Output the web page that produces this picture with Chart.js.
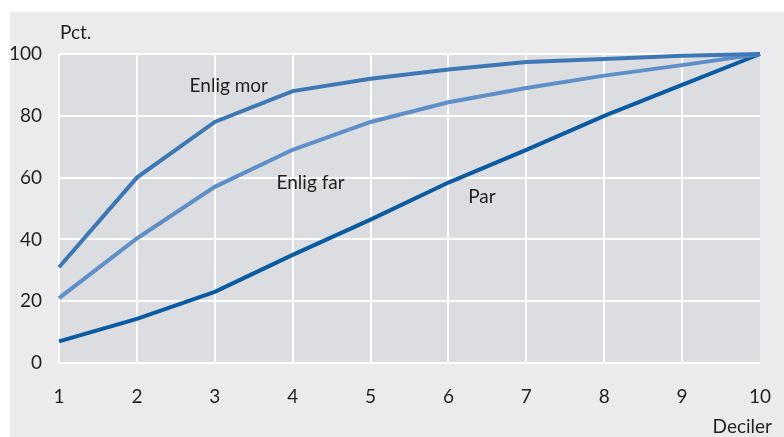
<!DOCTYPE html>
<html><head><meta charset="utf-8">
<script src="https://cdn.jsdelivr.net/npm/chart.js@4"></script>
<style>html,body{margin:0;padding:0;background:#fff;}#wrap{width:784px;height:437px;position:relative;}</style>
</head><body><div id="wrap"><canvas id="c" width="784" height="437"></canvas></div>
<script>
const deciles = [1,2,3,4,5,6,7,8,9,10];
const yTicks = [0,20,40,60,80,100];
const enligMor = [31,60,78,88,92,95,97.4,98.4,99.4,100];
const enligFar = [21,40.3,57,69,78,84.4,89,93,96.4,100];
const par = [7,14.3,23,35,46.4,58.4,69,80,90,100];
const seriesLabels = ["Enlig mor","Enlig far","Par"];
const labelPos = [[3.18,89.6],[4.23,58.4],[6.43,53.9]];

const FONT = "Lato";
const txt = "#231f20";
const toXY = arr => arr.map((v,i)=>({x:deciles[i],y:v}));

const bgPlugin = {
  id:'bg',
  beforeDraw(chart){
    const {ctx, chartArea:a} = chart;
    ctx.save();
    ctx.fillStyle = '#ebebed';
    ctx.fillRect(10,12,chart.width-10,chart.height-12);
    ctx.fillStyle = '#dcdde0';
    ctx.fillRect(a.left,a.top,a.right-a.left,a.bottom-a.top);
    ctx.restore();
  },
  afterDraw(chart){
    const {ctx, chartArea:a, scales:{x,y}} = chart;
    ctx.save();
    ctx.fillStyle = txt;
    ctx.font = `19px ${FONT}`;
    ctx.textAlign='center'; ctx.textBaseline='middle';
    seriesLabels.forEach((l,i)=>{
      ctx.fillText(l, x.getPixelForValue(labelPos[i][0]), y.getPixelForValue(labelPos[i][1]));
    });
    ctx.textAlign='left';
    ctx.fillText('Pct.', a.left+1, a.top-21);
    ctx.textAlign='right';
    ctx.fillText('Deciler', a.right+12, a.bottom+64);
    ctx.restore();
  }
};

new Chart(document.getElementById('c'),{
  type:'line',
  data:{datasets:[
    {data:toXY(enligMor),borderColor:'#3d78b6',borderWidth:4},
    {data:toXY(enligFar),borderColor:'#5e8fc8',borderWidth:4},
    {data:toXY(par),borderColor:'#0b5ba3',borderWidth:4}
  ]},
  options:{
    responsive:false,animation:false,
    layout:{padding:{left:0,top:54,right:24,bottom:0}},
    elements:{point:{radius:0},line:{tension:0,borderCapStyle:'butt',borderJoinStyle:'miter'}},
    datasets:{line:{clip:false}},
    plugins:{legend:{display:false},tooltip:{enabled:false}},
    scales:{
      x:{type:'linear',min:1,max:10,
        afterBuildTicks:s=>{s.ticks=deciles.map(v=>({value:v}));},
        afterFit:s=>{s.height=74;s.paddingLeft=0;s.paddingRight=0;},
        grid:{color:c=>c.tick&&c.tick.value===10?'rgba(0,0,0,0)':'#ffffff',lineWidth:2,drawTicks:false},
        border:{display:false},
        ticks:{padding:22,color:txt,font:{family:FONT,size:19},maxRotation:0}
      },
      y:{min:0,max:100,
        afterBuildTicks:s=>{s.ticks=yTicks.map(v=>({value:v}));},
        afterFit:s=>{s.width=59;s.paddingTop=0;s.paddingBottom=0;},
        grid:{color:'#ffffff',lineWidth:2,drawTicks:false},
        border:{display:false},
        ticks:{padding:17,color:txt,font:{family:FONT,size:19}}
      }
    }
  },
  plugins:[bgPlugin]
});
</script></body></html>
